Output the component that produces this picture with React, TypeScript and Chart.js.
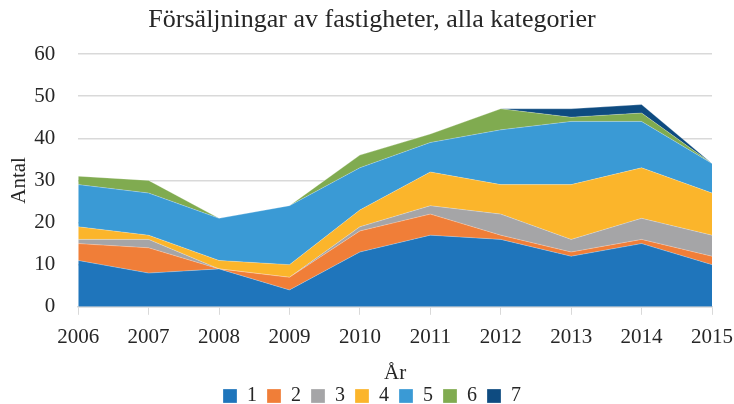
import React, { useEffect, useRef } from "react";
import { Chart, registerables } from "chart.js";

Chart.register(...registerables);

const years = ["2006", "2007", "2008", "2009", "2010", "2011", "2012", "2013", "2014", "2015"];
const cat1 = [11, 8, 9, 4, 13, 17, 16, 12, 15, 10];
const cat2 = [4, 6, 0, 3, 5, 5, 1, 1, 1, 2];
const cat3 = [1, 2, 0, 0, 1, 2, 5, 3, 5, 5];
const cat4 = [3, 1, 2, 3, 4, 8, 7, 13, 12, 10];
const cat5 = [10, 10, 10, 14, 10, 7, 13, 15, 11, 7];
const cat6 = [2, 3, 0, 0, 3, 2, 5, 1, 2, 0];
const cat7 = [0, 0, 0, 0, 0, 0, 0, 2, 2, 0];

const seriesNames = ["1", "2", "3", "4", "5", "6", "7"];
const seriesData = [cat1, cat2, cat3, cat4, cat5, cat6, cat7];
const colors = ["#1f75bb", "#f07e38", "#a5a5a7", "#fbb52b", "#3a9ad5", "#80ab50", "#0e4b80"];

const FONT = "'Liberation Serif', 'Times New Roman', serif";

export default function App() {
  const ref = useRef<HTMLCanvasElement | null>(null);
  useEffect(() => {
    if (!ref.current) return;
    const chart = new Chart(ref.current, {
      type: "line",
      data: {
        labels: years,
        datasets: seriesData.map((d, i) => ({
          label: seriesNames[i],
          data: d,
          backgroundColor: colors[i],
          borderColor: "rgba(255,255,255,0.45)",
          borderWidth: 0.6,
          pointRadius: 0,
          fill: i === 0 ? "origin" : "-1",
          tension: 0,
        })),
      },
      options: {
        animation: false,
        responsive: false,
        maintainAspectRatio: false,
        layout: { padding: { left: 5, right: -5, top: 0, bottom: -12 } },
        plugins: {
          title: {
            display: true,
            text: "Försäljningar av fastigheter, alla kategorier",
            color: "#262626",
            font: { family: FONT, size: 26, weight: "normal" },
            padding: { top: 4.4, bottom: 18.4 },
          },
          legend: {
            position: "bottom",
            labels: {
              color: "#262626",
              font: { family: FONT, size: 20 },
              boxWidth: 14,
              boxHeight: 14,
              padding: 10,
            },
          },
          tooltip: { enabled: false },
        },
        scales: {
          x: {
            offset: false,
            afterFit: (scale: any) => {
              scale.paddingRight = 22;
            },
            grid: {
              drawOnChartArea: false,
              drawTicks: true,
              tickLength: 8,
              color: "#d9d9d9",
            },
            border: { display: true, color: "#d9d9d9", width: 1.5 },
            ticks: {
              color: "#262626",
              font: { family: FONT, size: 21 },
              padding: 10.4,
              maxRotation: 0,
              autoSkip: false,
            },
            title: {
              display: true,
              text: "År",
              color: "#262626",
              font: { family: FONT, size: 21 },
              padding: { top: -0.4, bottom: -9.6 },
            },
          },
          y: {
            stacked: true,
            min: 0,
            max: 60,
            grid: { color: "#d9d9d9", drawTicks: false, lineWidth: 1.5 },
            border: { display: false },
            ticks: {
              stepSize: 10,
              color: "#262626",
              font: { family: FONT, size: 21 },
              padding: 23,
            },
            title: {
              display: true,
              text: "Antal",
              color: "#262626",
              font: { family: FONT, size: 21 },
              padding: { top: 1.4, bottom: -20.4 },
            },
          },
        },
      },
    });
    return () => chart.destroy();
  }, []);
  return (
    <div style={{ position: "fixed", left: 0, top: 0, width: 734, height: 404, background: "#fff" }}>
      <canvas ref={ref} width={734} height={404} style={{ width: 734, height: 404 }} />
    </div>
  );
}
